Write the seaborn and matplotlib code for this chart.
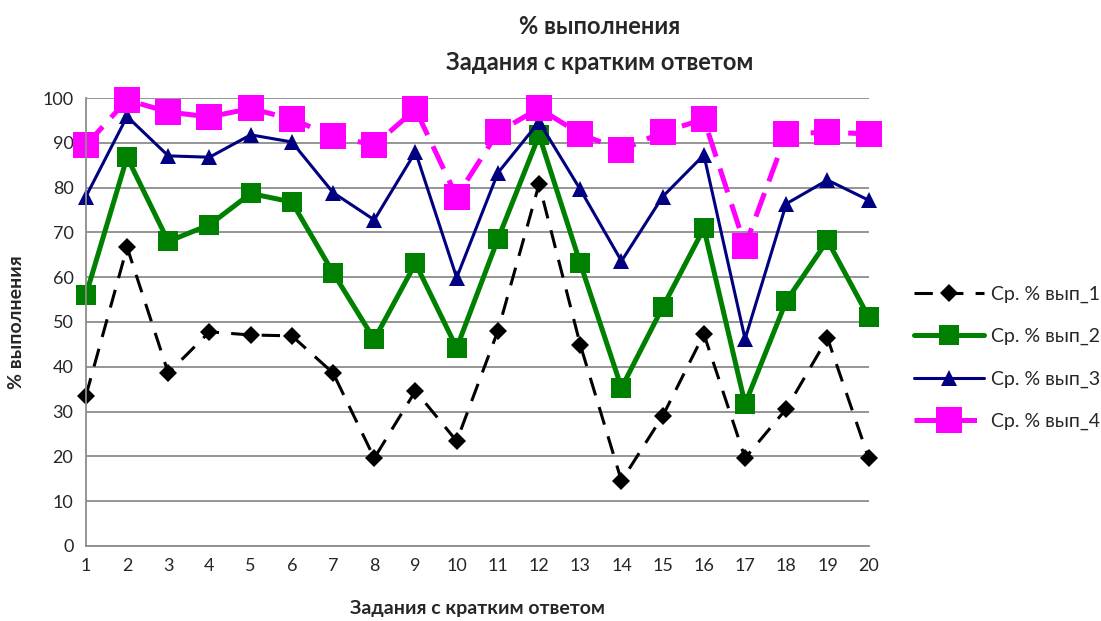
import matplotlib
matplotlib.use("Agg")
import matplotlib.pyplot as plt
import seaborn as sns

# data
tasks = list(range(1, 21))
vyp_1 = [33.5, 66.7, 38.6, 47.8, 47.1, 46.9, 38.6, 19.6, 34.6, 23.4,
         48.0, 80.8, 44.9, 14.5, 29.0, 47.3, 19.6, 30.6, 46.4, 19.6]
vyp_2 = [56.0, 86.8, 68.0, 71.7, 78.7, 76.8, 61.0, 46.1, 63.1, 44.2,
         68.5, 91.7, 63.1, 35.3, 53.3, 70.9, 31.7, 54.7, 68.2, 51.1]
vyp_3 = [78.0, 95.9, 87.1, 86.8, 91.8, 90.2, 78.9, 72.8, 88.0, 59.9,
         83.3, 94.7, 79.6, 63.6, 78.0, 87.3, 46.2, 76.4, 81.7, 77.2]
vyp_4 = [89.5, 99.6, 96.9, 95.8, 97.7, 95.3, 91.5, 89.5, 97.5, 78.0,
         92.4, 97.7, 92.0, 88.4, 92.4, 95.3, 67.0, 92.0, 92.4, 92.0]
series_names = ["Ср. % вып_1", "Ср. % вып_2", "Ср. % вып_3", "Ср. % вып_4"]
y_ticks = list(range(0, 101, 10))

sns.set_style("white")
plt.rcParams['font.family'] = ['Lato', 'DejaVu Sans']

fig = plt.figure(figsize=(11.01, 6.21), dpi=100)
ax = fig.add_axes([0.078, 0.121, 0.711, 0.721])

sns.lineplot(x=tasks, y=vyp_1, ax=ax, color="black", linewidth=2.2,
             linestyle=(0, (6, 4)), marker="D", markersize=9,
             markeredgewidth=0, label=series_names[0], clip_on=False)
sns.lineplot(x=tasks, y=vyp_2, ax=ax, color="#008000", linewidth=3.6,
             marker="s", markersize=14, markeredgewidth=0,
             label=series_names[1], clip_on=False)
sns.lineplot(x=tasks, y=vyp_3, ax=ax, color="#000080", linewidth=2.2,
             marker="^", markersize=12, markeredgewidth=0,
             label=series_names[2], clip_on=False)
sns.lineplot(x=tasks, y=vyp_4, ax=ax, color="#FF00FF", linewidth=3.6,
             linestyle=(0, (5, 2.5)), marker="s", markersize=19,
             markeredgewidth=0, label=series_names[3], clip_on=False)

ax.set_xlim(1, 20)
ax.set_ylim(0, 100)
ax.set_xticks(tasks)
ax.set_yticks(y_ticks)
ax.yaxis.grid(True, color="#8c8c8c", linewidth=1.3)
ax.set_axisbelow(True)
for side in ["top", "right"]:
    ax.spines[side].set_visible(False)
for side in ["left", "bottom"]:
    ax.spines[side].set_color("#8c8c8c")
    ax.spines[side].set_linewidth(1.3)
ax.tick_params(axis="both", direction="out", length=5, width=1.3,
               color="#8c8c8c", labelsize=13, pad=4)

ax.set_xlabel("Задания с кратким ответом", fontsize=14, fontweight="bold")
ax.set_ylabel("% выполнения", fontsize=14, fontweight="bold")
ax.xaxis.set_label_coords(0.5, -0.122)
ax.yaxis.set_label_coords(-0.078, 0.5)

fig.text(0.545, 0.958, "% выполнения", ha="center", va="center",
         fontsize=17, fontweight="bold")
fig.text(0.545, 0.899, "Задания с кратким ответом", ha="center",
         va="center", fontsize=17, fontweight="bold")

ax.legend(loc="center left", bbox_to_anchor=(1.035, 0.42), frameon=False,
          fontsize=14, handlelength=3.6, labelspacing=1.3,
          handletextpad=0.4)

plt.savefig("out.png", dpi=100)
